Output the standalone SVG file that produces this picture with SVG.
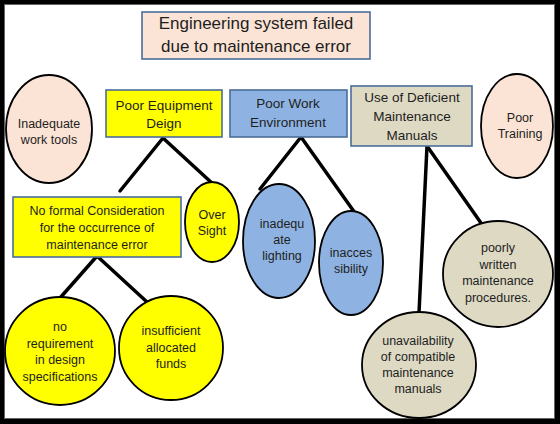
<svg xmlns="http://www.w3.org/2000/svg" width="560" height="424" viewBox="0 0 560 424">
<style>
text{font-family:"Liberation Sans",Arial,sans-serif;fill:#1e1e1e;text-anchor:middle}
.t{font-size:17px}
.b{font-size:13.5px}
.s{font-size:12.5px}
.c{font-size:12.5px}
.box{stroke:#4a6d98;stroke-width:1.6}
.ell{stroke:#000;stroke-width:1.8}
.peach{fill:#fbe4d5}
.yel{fill:#ffff00}
.blue{fill:#8eb3e2}
.tan{fill:#ddd9c3}
#connectors line{stroke:#000;stroke-width:3.5;stroke-linecap:round}
</style>
<rect width="560" height="424" fill="#000"/>
<rect x="4.5" y="4.5" width="550" height="414" fill="#fff" stroke="#666" stroke-width="1"/>
<g id="connectors">
<line x1="163" y1="138" x2="120" y2="191"/>
<line x1="163" y1="138" x2="213" y2="184"/>
<line x1="97" y1="256" x2="60" y2="298"/>
<line x1="97" y1="256" x2="147" y2="302"/>
<line x1="301" y1="137" x2="260" y2="189"/>
<line x1="301" y1="137" x2="355" y2="213"/>
<line x1="427" y1="146" x2="419" y2="313"/>
<line x1="427" y1="146" x2="481" y2="223"/>
</g>
<g id="title">
<rect class="box peach" x="142" y="12" width="228" height="47"/>
<text class="t" x="256" y="29">Engineering system failed</text>
<text class="t" x="256" y="52">due to maintenance error</text>
</g>
<g id="inadequate-tools">
<ellipse class="ell peach" cx="49" cy="129" rx="43" ry="54"/>
<text class="s" x="49" y="128">Inadequate</text>
<text class="s" x="49" y="144">work tools</text>
</g>
<g id="poor-training">
<ellipse class="ell peach" cx="517" cy="126" rx="36" ry="52"/>
<text class="s" x="520" y="122">Poor</text>
<text class="s" x="520" y="138">Training</text>
</g>
<g id="poor-equipment">
<rect class="box yel" x="106" y="90" width="116" height="47"/>
<text class="b" x="164" y="110">Poor Equipment</text>
<text class="b" x="164" y="128">Deign</text>
</g>
<g id="poor-work">
<rect class="box blue" x="230" y="90" width="117" height="47"/>
<text class="b" x="288" y="108">Poor Work</text>
<text class="b" x="288" y="127">Environment</text>
</g>
<g id="deficient-manuals">
<rect class="box tan" x="351" y="86" width="121" height="60"/>
<text class="b" x="412" y="102">Use of Deficient</text>
<text class="b" x="412" y="121">Maintenance</text>
<text class="b" x="412" y="140">Manuals</text>
</g>
<g id="no-formal">
<rect class="box yel" x="13" y="197" width="168" height="60"/>
<text class="c" x="97" y="215">No formal Consideration</text>
<text class="c" x="97" y="232">for the occurrence of</text>
<text class="c" x="97" y="249">maintenance error</text>
</g>
<g id="over-sight">
<ellipse class="ell yel" cx="212" cy="222" rx="27" ry="40"/>
<text class="s" x="212" y="219">Over</text>
<text class="s" x="212" y="235">Sight</text>
</g>
<g id="no-requirement">
<ellipse class="ell yel" cx="60" cy="351" rx="55" ry="54"/>
<text class="s" x="60" y="331">no</text>
<text class="s" x="60" y="348">requirement</text>
<text class="s" x="60" y="364">in design</text>
<text class="s" x="60" y="381">specifications</text>
</g>
<g id="insufficient-funds">
<ellipse class="ell yel" cx="171" cy="348" rx="52" ry="52"/>
<text class="s" x="171" y="335">insufficient</text>
<text class="s" x="171" y="352">allocated</text>
<text class="s" x="171" y="368">funds</text>
</g>
<g id="inadequate-lighting">
<ellipse class="ell blue" cx="279" cy="241" rx="36" ry="57"/>
<text class="s" x="282" y="228">inadequ</text>
<text class="s" x="282" y="244">ate</text>
<text class="s" x="282" y="260">lighting</text>
</g>
<g id="inaccessibility">
<ellipse class="ell blue" cx="351" cy="263" rx="32" ry="52"/>
<text class="s" x="351" y="257">inacces</text>
<text class="s" x="351" y="273">sibility</text>
</g>
<g id="poorly-written">
<ellipse class="ell tan" cx="498" cy="274" rx="55" ry="53"/>
<text class="s" x="498" y="252">poorly</text>
<text class="s" x="498" y="269">written</text>
<text class="s" x="498" y="285">maintenance</text>
<text class="s" x="498" y="302">procedures.</text>
</g>
<g id="unavailability">
<ellipse class="ell tan" cx="419" cy="365" rx="57" ry="53"/>
<text class="s" x="418" y="345">unavailability</text>
<text class="s" x="418" y="361">of compatible</text>
<text class="s" x="418" y="377">maintenance</text>
<text class="s" x="418" y="393">manuals</text>
</g>
</svg>
